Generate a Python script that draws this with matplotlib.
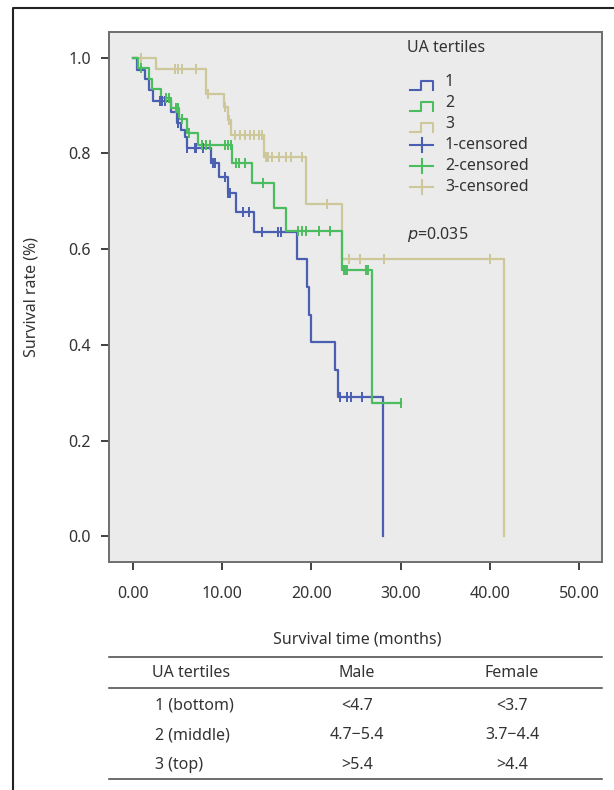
import numpy as np
import matplotlib
matplotlib.use("Agg")
import matplotlib.pyplot as plt
from matplotlib.lines import Line2D

plt.rcParams['font.family'] = ['Noto Sans', 'DejaVu Sans']
FS = 11.5
plt.rcParams['font.size'] = FS

# Kaplan-Meier steps (time in months, survival after each drop)
g1_times = [0, 0.5, 1.4, 1.8, 2.2, 4.3, 4.9, 5.4, 5.8, 6.0, 8.8, 9.6, 10.6, 11.6, 13.6,
            18.4, 19.5, 19.7, 20.0, 22.7, 23.0, 28.0]
g1_surv = [1.0, 0.975, 0.956, 0.933, 0.910, 0.887, 0.864, 0.849, 0.835, 0.812, 0.780,
           0.751, 0.718, 0.678, 0.636, 0.580, 0.521, 0.462, 0.406, 0.347, 0.291, 0.0]
g1_cens = [3.0, 3.3, 3.6, 5.0, 6.1, 6.9, 7.1, 7.8, 9.0, 9.2, 10.3, 10.7, 10.9, 12.3, 13.0,
           14.5, 16.3, 16.6, 23.2, 24.0, 24.4, 25.7]

g2_times = [0, 0.6, 1.8, 2.1, 3.1, 4.3, 5.2, 6.0, 7.3, 11.1, 13.3, 15.8, 17.2, 23.4, 26.8]
g2_surv = [1.0, 0.979, 0.956, 0.935, 0.916, 0.895, 0.872, 0.843, 0.818, 0.780, 0.738,
           0.686, 0.638, 0.556, 0.278]
g2_cens = [0.9, 3.7, 4.0, 4.8, 5.0, 5.5, 6.3, 7.7, 8.2, 8.6, 10.3, 10.6, 11.0, 11.5, 11.9,
           12.6, 14.6, 18.5, 19.0, 19.4, 20.9, 22.1, 23.6, 23.8, 24.0, 26.1, 26.3, 30.0]

g3_times = [0, 2.6, 8.2, 10.2, 10.7, 11.0, 14.7, 19.4, 23.4, 41.6]
g3_surv = [1.0, 0.977, 0.925, 0.898, 0.870, 0.839, 0.793, 0.695, 0.579, 0.0]
g3_cens = [0.9, 4.7, 5.0, 5.5, 7.1, 8.4, 10.3, 10.8, 11.4, 12.0, 12.6, 13.1, 13.6, 14.1,
           14.5, 14.9, 15.1, 15.6, 16.4, 17.2, 17.7, 18.9, 21.7, 24.2, 25.4, 28.1, 40.0]

group_labels = ["1", "2", "3"]
colors = ["#4a5fb2", "#4cbd5e", "#cdc79a"]

xticks = [0, 10, 20, 30, 40, 50]
yticks = [0.0, 0.2, 0.4, 0.6, 0.8, 1.0]

table_header = ["UA tertiles", "Male", "Female"]
table_rows = [["1 (bottom)", "<4.7", "<3.7"],
              ["2 (middle)", "4.7\u22125.4", "3.7\u22124.4"],
              ["3 (top)", ">5.4", ">4.4"]]
p_text = "=0.035"

W, H = 614, 790
fig = plt.figure(figsize=(W / 100, H / 100), dpi=100)


def fx(px):
    return px / W


def fy(py):
    return 1 - py / H


ax = fig.add_axes([fx(109), fy(562), fx(602) - fx(109), fy(32) - fy(562)])
ax.set_facecolor("#ebebeb")
for s in ax.spines.values():
    s.set_color("#6e6e6e")
    s.set_linewidth(1.4)

groups = [(g1_times, g1_surv, g1_cens), (g2_times, g2_surv, g2_cens), (g3_times, g3_surv, g3_cens)]
order = [2, 0, 1]
for i in order:
    t, s, c = groups[i]
    t = list(t)
    s = list(s)
    # extend flat part out to the last censored case
    if max(c) > t[-1]:
        t.append(max(c))
        s.append(s[-1])
    ax.step(t, s, where="post", color=colors[i], lw=1.6, zorder=3)
    idx = np.searchsorted(t, c, side="right") - 1
    cy = np.array(s)[idx]
    ax.plot(c, cy, ls="none", marker="|", ms=7.5, mew=1.4, color=colors[i], zorder=4)

ax.set_xlim(-2.69, 52.58)
ax.set_ylim(-0.054, 1.054)
ax.set_xticks(xticks)
ax.set_xticklabels([f"{v:.2f}" for v in xticks])
ax.set_yticks(yticks)
ax.set_yticklabels([f"{v:.1f}" for v in yticks])
ax.tick_params(axis="both", direction="out", length=6, width=1.3, color="#333333",
               labelcolor="#333333", labelsize=FS)
ax.tick_params(axis="x", pad=11)
ax.tick_params(axis="y", pad=7)

ax.set_xlabel("Survival time (months)", color="#333333", fontsize=FS)
ax.xaxis.set_label_coords(0.503, -0.132)
ax.set_ylabel("Survival rate (%)", color="#333333", fontsize=FS)
ax.yaxis.set_label_coords(-0.14, 0.5)

# legend drawn by hand to get the SPSS-style step glyphs
txtc = "#333333"
fig.text(fx(407), fy(48), "UA tertiles", ha="left", va="center", color=txtc, fontsize=FS)
row_y = [82, 103, 124, 145, 166, 187]
for k in range(3):
    y = row_y[k]
    xs = [fx(410), fx(421), fx(421), fx(433), fx(433)]
    ys = [fy(y + 8), fy(y + 8), fy(y - 1), fy(y - 1), fy(y + 8)]
    fig.add_artist(Line2D(xs, ys, color=colors[k], lw=1.5))
    fig.text(fx(445), fy(y), group_labels[k], ha="left", va="center", color=txtc, fontsize=FS)
for k in range(3):
    y = row_y[k + 3]
    fig.add_artist(Line2D([fx(410), fx(433)], [fy(y), fy(y)], color=colors[k], lw=1.5))
    fig.add_artist(Line2D([fx(421.5), fx(421.5)], [fy(y - 7), fy(y + 7)], color=colors[k], lw=1.5))
    fig.text(fx(445), fy(y), group_labels[k] + "-censored", ha="left", va="center",
             color=txtc, fontsize=FS)

fig.text(fx(407), fy(234), "$p$" + p_text, ha="left", va="center", color=txtc, fontsize=FS)

# table under the chart
line_kw = dict(color="#444444", lw=1.1)
for yy in [657, 688, 779]:
    fig.add_artist(Line2D([fx(109), fx(602)], [fy(yy), fy(yy)], **line_kw))
col_x = [152, 357, 512]
fig.text(fx(col_x[0]), fy(673), table_header[0], ha="left", va="center", color=txtc, fontsize=FS)
for j in [1, 2]:
    fig.text(fx(col_x[j]), fy(673), table_header[j], ha="center", va="center", color=txtc, fontsize=FS)
for r, yy in zip(table_rows, [706, 735, 765]):
    fig.text(fx(155), fy(yy), r[0], ha="left", va="center", color=txtc, fontsize=FS)
    fig.text(fx(col_x[1]), fy(yy), r[1], ha="center", va="center", color=txtc, fontsize=FS)
    fig.text(fx(col_x[2]), fy(yy), r[2], ha="center", va="center", color=txtc, fontsize=FS)

# outer frame (top and left edges visible)
fig.add_artist(Line2D([fx(13), fx(13), fx(614)], [fy(790), fy(8), fy(8)], color="#222222", lw=1.5))

fig.savefig("out.png", dpi=100)
